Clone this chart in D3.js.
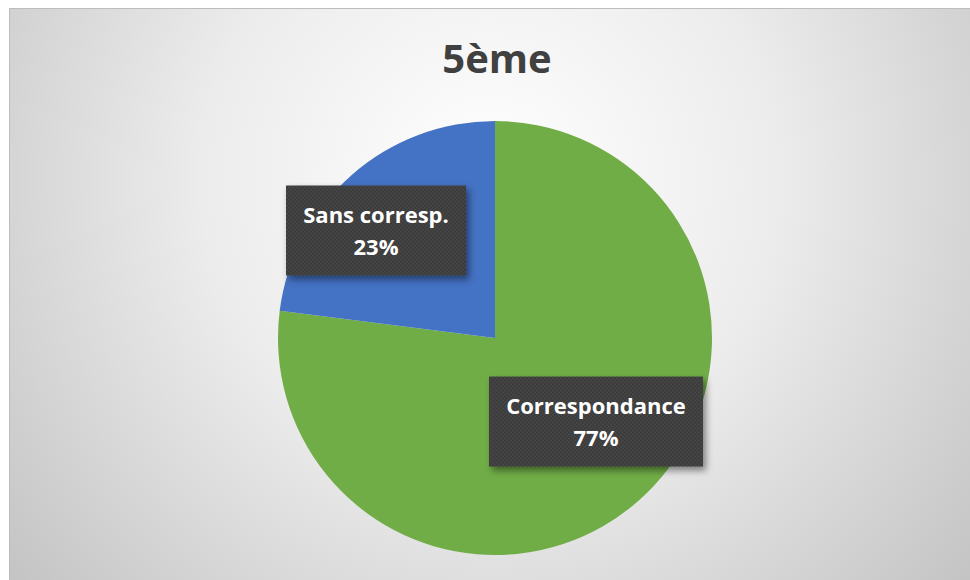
<!DOCTYPE html>
<html>
<head>
<meta charset="utf-8">
<script src="https://cdn.jsdelivr.net/npm/d3@7/dist/d3.min.js"></script>
<style>
  body { margin: 0; background: #ffffff; }
  svg { display: block; }
  .lbl { font-family: "Open Sans", "DejaVu Sans", sans-serif; font-weight: bold; fill: #ffffff; }
  .title { font-family: "Open Sans", "DejaVu Sans", sans-serif; font-weight: bold; fill: #404040; }
</style>
</head>
<body>
<script>
// chart values
var title = "5ème";
var categories = ["Correspondance", "Sans corresp."];
var values = [77, 23];
var colors = ["#70ad47", "#4472c4"];

var W = 970, H = 580;
var cx = 495, cy = 338, R = 217;

var svg = d3.select("body").append("svg").attr("width", W).attr("height", H);
var defs = svg.append("defs");

// background gradient
var grad = defs.append("radialGradient").attr("id", "bg")
  .attr("gradientUnits", "userSpaceOnUse")
  .attr("cx", 490).attr("cy", 180).attr("r", 640);
grad.append("stop").attr("offset", "0").attr("stop-color", "#ffffff");
grad.append("stop").attr("offset", "0.45").attr("stop-color", "#ececec");
grad.append("stop").attr("offset", "1").attr("stop-color", "#c2c2c2");

// dotted texture for labels
var pat = defs.append("pattern").attr("id", "dots")
  .attr("patternUnits", "userSpaceOnUse").attr("width", 4).attr("height", 4);
pat.append("rect").attr("width", 4).attr("height", 4).attr("fill", "#3b3b3b");
pat.append("circle").attr("cx", 1).attr("cy", 1).attr("r", 0.9).attr("fill", "#4a4a4a");
pat.append("circle").attr("cx", 3).attr("cy", 3).attr("r", 0.9).attr("fill", "#4a4a4a");

var shadow = defs.append("filter").attr("id", "shadow")
  .attr("x", "-20%").attr("y", "-20%").attr("width", "150%").attr("height", "160%");
shadow.append("feDropShadow").attr("dx", 3).attr("dy", 4).attr("stdDeviation", 3.5)
  .attr("flood-color", "#000").attr("flood-opacity", 0.45);

svg.append("rect").attr("x", 9.5).attr("y", 8.5).attr("width", W).attr("height", H)
  .attr("fill", "url(#bg)").attr("stroke", "#bdbdbd").attr("stroke-width", 1);

svg.append("text").attr("class", "title")
  .attr("x", 497).attr("y", 73).attr("text-anchor", "middle")
  .style("font-size", "40px").text(title);

var data = categories.map(function (c, i) { return { name: c, value: values[i], color: colors[i] }; });
var total = d3.sum(values);

var pie = d3.pie().sort(null).value(function (d) { return d.value; });
var arcs = pie(data);
var arc = d3.arc().innerRadius(0).outerRadius(R);

var g = svg.append("g").attr("transform", "translate(" + cx + "," + cy + ")");
g.selectAll("path.slice").data(arcs).enter().append("path")
  .attr("class", "slice")
  .attr("d", arc)
  .attr("fill", function (d) { return d.data.color; });

// label placement (fraction of R, angle shift in degrees) per slice
var labelR = [0.604, 0.739];
var labelShift = [-9, -6.5];
var labels = g.selectAll("g.label").data(arcs).enter().append("g")
  .attr("class", "label")
  .attr("transform", function (d, i) {
    var a = (d.startAngle + d.endAngle) / 2 + labelShift[i] * Math.PI / 180;
    var r = R * labelR[i];
    return "translate(" + (Math.sin(a) * r) + "," + (-Math.cos(a) * r) + ")";
  });

labels.each(function (d, i) {
  var sel = d3.select(this);
  var box = sel.append("rect").attr("fill", "url(#dots)").attr("filter", "url(#shadow)");
  var t = sel.append("text").attr("class", "lbl").attr("text-anchor", "middle").style("font-size", "22px");
  t.append("tspan").attr("x", 0).attr("y", -7.5).text(d.data.name);
  t.append("tspan").attr("x", 0).attr("y", 24.5).text(Math.round(d.data.value / total * 100) + "%");
  var w = t.node().getBBox().width;
  var bw = Math.round(w + 34), bh = 90;
  box.attr("x", -bw / 2).attr("y", -bh / 2).attr("width", bw).attr("height", bh);
});
</script>
</body>
</html>
